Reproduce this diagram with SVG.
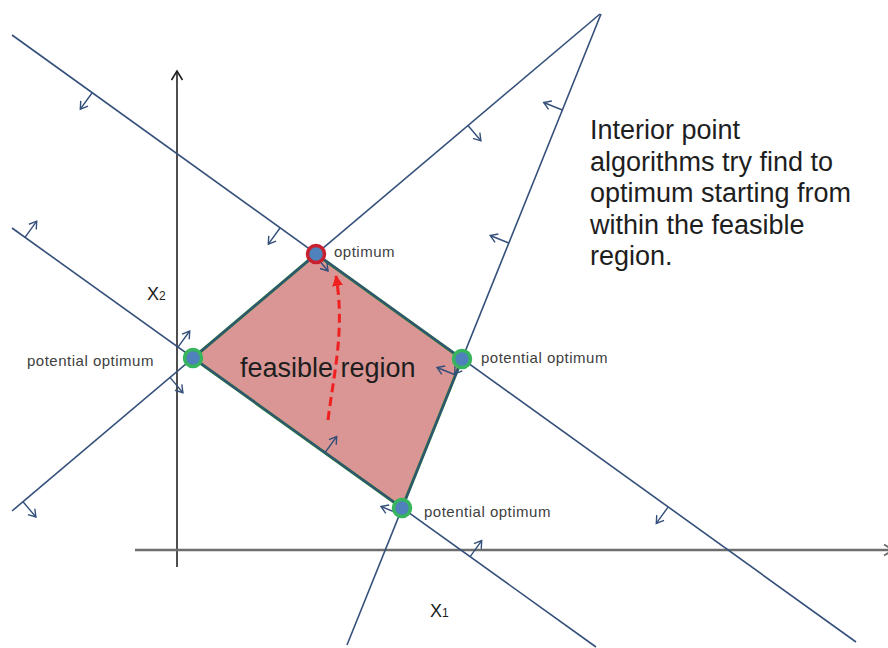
<svg xmlns="http://www.w3.org/2000/svg" width="888" height="648" viewBox="0 0 888 648">
  <style>
    .cl { stroke: #34507a; stroke-width: 1.6; fill: none; }
    .tk { stroke: #34507a; stroke-width: 1.4; fill: none; marker-end: url(#oa); }
    .ax { stroke: #222; stroke-width: 1.6; fill: none; }
    .axh { stroke: #6e6e6e; stroke-width: 2.5; fill: none; }
    .vx { fill: #4f81bd; stroke: #36b55c; stroke-width: 3.5; }
    .vopt { fill: #4f81bd; stroke: #c8202e; stroke-width: 3.5; }
    .sm { font-family: "Liberation Sans", Arial, sans-serif; font-size: 15px; letter-spacing: 0.5px; fill: #404040; }
    .big { font-family: "Liberation Sans", Arial, sans-serif; font-size: 27px; fill: #1e1e1e; }
    .axl { font-family: "Liberation Sans", Arial, sans-serif; font-size: 18px; fill: #1e1e1e; }
    .sub { font-size: 12px; }
  </style>
  <defs>
    <marker id="oa" markerUnits="userSpaceOnUse" markerWidth="12" markerHeight="12" viewBox="0 0 12 12" refX="10" refY="6" orient="auto">
      <path d="M3,1.5 L10,6 L3,10.5" fill="none" stroke="#34507a" stroke-width="1.4"/>
    </marker>
    <marker id="axa" markerUnits="userSpaceOnUse" markerWidth="14" markerHeight="14" viewBox="0 0 14 14" refX="12" refY="7" orient="auto">
      <path d="M3,1.5 L12,7 L3,12.5" fill="none" stroke="#222" stroke-width="1.6"/>
    </marker>
    <marker id="axb" markerUnits="userSpaceOnUse" markerWidth="14" markerHeight="14" viewBox="0 0 14 14" refX="12" refY="7" orient="auto">
      <path d="M3,1.5 L12,7 L3,12.5" fill="none" stroke="#6e6e6e" stroke-width="2"/>
    </marker>
    <marker id="ra" markerUnits="userSpaceOnUse" markerWidth="14" markerHeight="14" viewBox="0 0 14 14" refX="10" refY="7" orient="auto">
      <path d="M0,1.5 L11,7 L0,12.5 Z" fill="#f02020"/>
    </marker>
  </defs>
  <rect width="888" height="648" fill="#ffffff"/>

  <g id="axes">
    <line class="ax" x1="177" y1="567" x2="177" y2="71" marker-end="url(#axa)"/>
    <line class="axh" x1="135" y1="550" x2="893" y2="550" marker-end="url(#axb)"/>
  </g>

  <g id="feasible-region">
    <polygon points="316,254 462,359 402,508 193,358" fill="#d99694" stroke="#237443" stroke-width="3" stroke-linejoin="round"/>
    <text class="big" x="240" y="377">feasible region</text>
  </g>

  <g id="connectors">
    <line class="cl" x1="12" y1="35" x2="856" y2="642"/>
    <line class="cl" x1="600" y1="14" x2="12" y2="511"/>
    <line class="cl" x1="601" y1="14" x2="347" y2="645"/>
    <line class="cl" x1="12" y1="228" x2="596" y2="647"/>

    <line class="tk" x1="92" y1="93" x2="80.3" y2="109.2"/>
    <line class="tk" x1="280" y1="228" x2="268.3" y2="244.2"/>
    <line class="tk" x1="25" y1="237.4" x2="36.7" y2="221.2"/>
    <line class="tk" x1="178" y1="347.2" x2="189.7" y2="331"/>
    <line class="tk" x1="170" y1="377.4" x2="182.9" y2="392.7"/>
    <line class="tk" x1="23" y1="501.7" x2="35.9" y2="517"/>
    <line class="tk" x1="318" y1="259" x2="328" y2="271"/>
    <line class="tk" x1="562.3" y1="110" x2="543.7" y2="102.5"/>
    <line class="tk" x1="468" y1="125.5" x2="480.9" y2="140.8"/>
    <line class="tk" x1="508.8" y1="243" x2="490.2" y2="235.5"/>
    <line class="tk" x1="464" y1="361" x2="454.6" y2="374"/>
    <line class="tk" x1="455.6" y1="375" x2="437" y2="367.5"/>
    <line class="tk" x1="325" y1="452.7" x2="336.7" y2="436.5"/>
    <line class="tk" x1="399.6" y1="514" x2="381" y2="506.5"/>
    <line class="tk" x1="470" y1="556.8" x2="481.7" y2="540.6"/>
    <line class="tk" x1="668" y1="507.2" x2="656.3" y2="523.4"/>

    <path d="M328,420 C334,372 345,330 336,276" fill="none" stroke="#f02020" stroke-width="3" stroke-dasharray="9,5" marker-end="url(#ra)"/>
  </g>

  <g id="vertex-optimum">
    <circle class="vopt" cx="316" cy="254" r="8.5"/>
    <text class="sm" x="334" y="257">optimum</text>
  </g>
  <g id="vertex-left">
    <circle class="vx" cx="193" cy="358" r="8.5"/>
    <text class="sm" x="27" y="366">potential optimum</text>
  </g>
  <g id="vertex-right">
    <circle class="vx" cx="462" cy="359" r="8.5"/>
    <text class="sm" x="481" y="363">potential optimum</text>
  </g>
  <g id="vertex-bottom">
    <circle class="vx" cx="402" cy="508" r="8.5"/>
    <text class="sm" x="424" y="517">potential optimum</text>
  </g>

  <g id="axis-labels">
    <text class="axl" x="147" y="300">X<tspan class="sub">2</tspan></text>
    <text class="axl" x="430" y="617">X<tspan class="sub">1</tspan></text>
  </g>

  <g id="note">
    <text class="big" x="590" y="139">Interior point</text>
    <text class="big" x="590" y="170.5">algorithms try find to</text>
    <text class="big" x="590" y="202">optimum starting from</text>
    <text class="big" x="590" y="233.5">within the feasible</text>
    <text class="big" x="590" y="265">region.</text>
  </g>
</svg>
